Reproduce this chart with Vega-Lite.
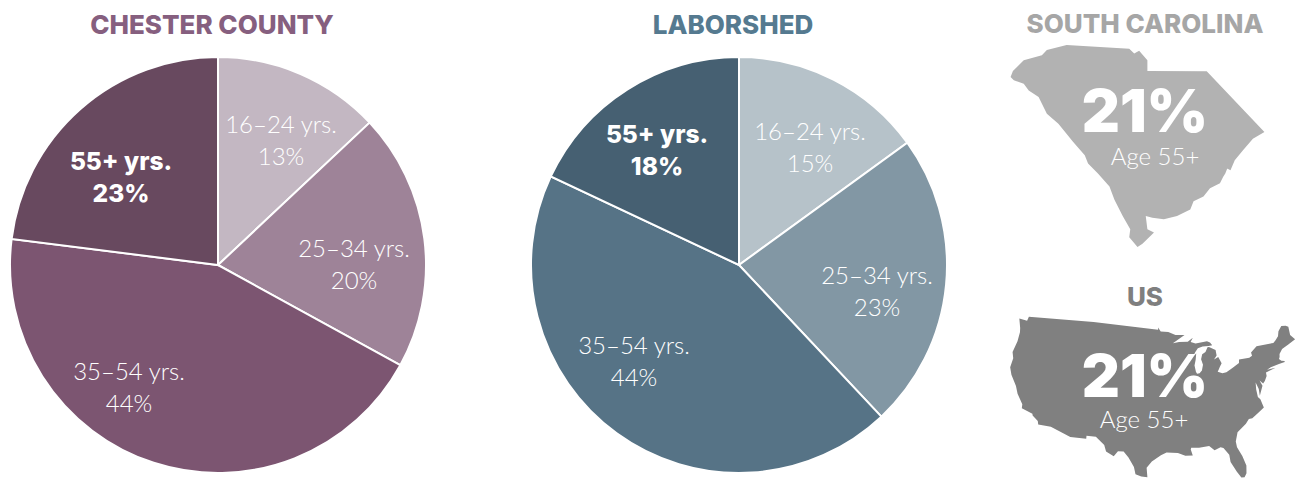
{"$schema":"https://vega.github.io/schema/vega-lite/v6.json","background":"white","padding":{"left":0,"top":12,"right":0,"bottom":0},"bounds":"flush","spacing":85,"resolve":{"scale":{"color":"independent"}},"config":{"view":{"stroke":null},"text":{"font":"Lato"},"title":{"font":"Inter","fontWeight":800,"fontSize":26,"anchor":"middle"}},
"datasets":{"chester":[{"age":"16–24 yrs.","share":13,"rank":1,"label":"16–24 yrs.\n13%"},{"age":"25–34 yrs.","share":20,"rank":2,"label":"25–34 yrs.\n20%"},{"age":"35–54 yrs.","share":44,"rank":3,"label":"35–54 yrs.\n44%"},{"age":"55+ yrs.","share":23,"rank":4,"label":"55+ yrs.\n23%"}],
"laborshed":[{"age":"16–24 yrs.","share":15,"rank":1,"label":"16–24 yrs.\n15%"},{"age":"25–34 yrs.","share":23,"rank":2,"label":"25–34 yrs.\n23%"},{"age":"35–54 yrs.","share":44,"rank":3,"label":"35–54 yrs.\n44%"},{"age":"55+ yrs.","share":18,"rank":4,"label":"55+ yrs.\n18%"}],
"stat":[{"value":"21%","caption":"Age 55+"}]},
"hconcat":[
{"width":436,"height":416,"title":{"text":"CHESTER COUNTY","color":"#865F7F","offset":14,"dx":-6},"data":{"name":"chester"},"layer":[
{"mark":{"type":"arc","outerRadius":208,"stroke":"white","strokeWidth":2},"encoding":{"theta":{"field":"share","type":"quantitative","stack":true},"order":{"field":"rank"},"color":{"field":"age","type":"nominal","legend":null,"scale":{"domain":["16–24 yrs.","25–34 yrs.","35–54 yrs.","55+ yrs."],"range":["#C3B7C2","#9E8398","#7C5571","#68495F"]}}}},
{"transform":[{"filter":"datum.rank==1"}],"mark":{"type":"text","color":"white","fontSize":24,"fontWeight":300,"lineBreak":"\n","lineHeight":32,"dx":63,"dy":-139},"encoding":{"text":{"field":"label"}}},
{"transform":[{"filter":"datum.rank==2"}],"mark":{"type":"text","color":"white","fontSize":24,"fontWeight":300,"lineBreak":"\n","lineHeight":32,"dx":136,"dy":-15},"encoding":{"text":{"field":"label"}}},
{"transform":[{"filter":"datum.rank==3"}],"mark":{"type":"text","color":"white","fontSize":24,"fontWeight":300,"lineBreak":"\n","lineHeight":32,"dx":-89,"dy":108},"encoding":{"text":{"field":"label"}}},
{"transform":[{"filter":"datum.rank==4"}],"mark":{"type":"text","color":"white","font":"Inter","fontSize":24.5,"fontWeight":800,"lineBreak":"\n","lineHeight":32,"dx":-97,"dy":-102},"encoding":{"text":{"field":"label"}}}
]},
{"width":436,"height":416,"title":{"text":"LABORSHED","color":"#557A90","offset":14,"dx":-6},"data":{"name":"laborshed"},"layer":[
{"mark":{"type":"arc","outerRadius":208,"stroke":"white","strokeWidth":2},"encoding":{"theta":{"field":"share","type":"quantitative","stack":true},"order":{"field":"rank"},"color":{"field":"age","type":"nominal","legend":null,"scale":{"domain":["16–24 yrs.","25–34 yrs.","35–54 yrs.","55+ yrs."],"range":["#B6C2C9","#8297A4","#567386","#466072"]}}}},
{"transform":[{"filter":"datum.rank==1"}],"mark":{"type":"text","color":"white","fontSize":24,"fontWeight":300,"lineBreak":"\n","lineHeight":32,"dx":71,"dy":-132},"encoding":{"text":{"field":"label"}}},
{"transform":[{"filter":"datum.rank==2"}],"mark":{"type":"text","color":"white","fontSize":24,"fontWeight":300,"lineBreak":"\n","lineHeight":32,"dx":138,"dy":12},"encoding":{"text":{"field":"label"}}},
{"transform":[{"filter":"datum.rank==3"}],"mark":{"type":"text","color":"white","fontSize":24,"fontWeight":300,"lineBreak":"\n","lineHeight":32,"dx":-105,"dy":82},"encoding":{"text":{"field":"label"}}},
{"transform":[{"filter":"datum.rank==4"}],"mark":{"type":"text","color":"white","font":"Inter","fontSize":24.5,"fontWeight":800,"lineBreak":"\n","lineHeight":32,"dx":-82,"dy":-129},"encoding":{"text":{"field":"label"}}}
]},
{"bounds":"flush","spacing":67,"vconcat":[
{"width":206,"height":193,"title":{"text":"SOUTH CAROLINA","color":"#A6A6A6","offset":7},"projection":{"type":"mercator","center":[-80.95,33.62],"scale":3030,"translate":[95.5,90]},"layer":[
{"data":{"values":[{"type":"Feature","properties":{"name":"South Carolina"},"geometry":{"type":"Polygon","coordinates":[[[-83.35,34.715],[-83.306,34.809],[-83.101,34.975],[-82.758,35.054],[-82.664,35.132],[-82.29,35.21],[-81.106,35.153],[-81.012,35.08],[-80.919,35.121],[-80.763,34.975],[-80.763,34.809],[-79.641,34.803],[-78.55,33.855],[-78.768,33.75],[-78.955,33.568],[-79.111,33.412],[-79.192,33.255],[-79.254,33.281],[-79.192,33.412],[-79.29,33.2],[-79.329,33.151],[-79.391,33.047],[-79.579,32.968],[-79.703,32.838],[-79.89,32.76],[-79.952,32.63],[-80.202,32.525],[-80.451,32.473],[-80.669,32.499],[-80.794,32.525],[-80.763,32.317],[-80.638,32.265],[-80.856,32.082],[-80.95,32.03],[-81.106,32.186],[-81.087,32.317],[-81.23,32.525],[-81.386,32.786],[-81.48,32.994],[-81.698,33.203],[-81.885,33.359],[-81.947,33.49],[-82.166,33.698],[-82.446,33.985],[-82.664,34.141],[-82.82,34.402],[-83.007,34.506],[-83.101,34.61],[-83.288,34.663],[-83.35,34.715]]]}}]},"mark":{"type":"geoshape","fill":"#B2B2B2","stroke":null,"clip":false}},
{"data":{"name":"stat"},"mark":{"type":"text","color":"white","font":"Inter","fontSize":59,"fontWeight":900,"dy":-39.5},"encoding":{"text":{"field":"value"}}},
{"data":{"name":"stat"},"mark":{"type":"text","color":"white","fontSize":24,"fontWeight":300,"dx":10,"dy":4.5},"encoding":{"text":{"field":"caption"}}}
]},
{"width":206,"height":163,"title":{"text":"US","color":"#7F7F7F","offset":6},"projection":{"type":"conicEqualArea","rotate":[96,0],"center":[-0.6,38.7],"parallels":[20,33],"scale":375,"translate":[109,77]},"layer":[
{"data":{"values":[{"type":"Feature","properties":{"name":"United States"},"geometry":{"type":"Polygon","coordinates":[[[-124.7,48.38],[-123.0,48.3],[-122.8,49.0],[-95.15,49.0],[-95.15,49.38],[-94.6,48.72],[-93.0,48.6],[-91.5,48.08],[-89.6,48.0],[-92.1,46.75],[-90.8,46.9],[-89.0,46.9],[-87.9,47.47],[-88.4,46.8],[-87.4,46.5],[-85.0,46.75],[-84.4,46.5],[-84.0,46.0],[-84.75,45.95],[-86.0,45.95],[-87.0,45.7],[-87.6,45.1],[-88.0,44.55],[-87.4,44.9],[-87.6,43.9],[-87.9,43.0],[-87.7,42.0],[-87.5,41.65],[-87.0,41.7],[-86.5,42.1],[-86.2,43.0],[-86.5,43.9],[-86.2,44.7],[-85.5,45.0],[-85.0,45.75],[-84.7,45.78],[-83.4,45.2],[-83.3,44.3],[-83.9,43.7],[-83.0,44.05],[-82.45,43.0],[-82.9,42.4],[-83.15,42.05],[-83.4,41.72],[-82.5,41.4],[-81.7,41.5],[-80.5,42.0],[-79.0,42.7],[-78.9,43.25],[-76.8,43.3],[-76.2,43.55],[-76.3,44.1],[-75.0,44.95],[-71.5,45.0],[-71.0,45.3],[-70.3,45.9],[-70.0,46.7],[-69.2,47.45],[-68.3,47.35],[-67.8,47.07],[-67.8,45.7],[-67.0,44.85],[-68.5,44.3],[-70.0,43.75],[-70.7,43.05],[-70.8,42.6],[-71.0,42.3],[-70.6,41.95],[-70.0,41.8],[-70.0,41.65],[-71.2,41.5],[-72.9,41.25],[-73.7,40.95],[-72.0,41.05],[-74.0,40.58],[-74.0,40.0],[-74.5,39.3],[-74.9,38.95],[-75.5,39.5],[-75.1,38.6],[-75.9,37.15],[-75.9,38.2],[-76.3,39.3],[-76.4,38.2],[-76.3,37.0],[-75.9,36.6],[-75.5,35.25],[-76.6,34.65],[-77.9,33.9],[-78.55,33.85],[-79.2,33.2],[-80.9,32.05],[-81.4,30.7],[-81.3,29.8],[-80.55,28.4],[-80.05,26.9],[-80.2,25.7],[-80.6,25.15],[-81.15,25.15],[-81.8,26.1],[-82.7,27.7],[-82.8,28.8],[-83.7,29.9],[-84.2,30.05],[-85.3,29.7],[-86.2,30.4],[-88.0,30.25],[-89.4,30.3],[-89.5,30.05],[-89.2,29.1],[-90.5,29.15],[-91.8,29.6],[-93.8,29.7],[-94.8,29.3],[-96.4,28.35],[-97.3,27.4],[-97.15,25.95],[-98.2,26.05],[-99.2,26.4],[-99.5,27.5],[-100.5,28.9],[-101.4,29.77],[-102.4,29.78],[-103.1,28.98],[-104.5,29.65],[-104.9,30.6],[-106.5,31.75],[-108.2,31.78],[-108.2,31.33],[-111.07,31.33],[-114.8,32.5],[-117.12,32.53],[-117.3,33.05],[-118.4,33.75],[-118.5,34.03],[-120.6,34.55],[-120.65,35.15],[-121.9,36.6],[-122.5,37.75],[-123.8,39.3],[-124.35,40.4],[-124.15,41.9],[-124.55,42.85],[-124.05,44.7],[-123.95,46.2],[-124.1,46.9],[-124.7,48.38]]]}}]},"mark":{"type":"geoshape","fill":"#808080","stroke":null,"clip":false}},
{"data":{"name":"stat"},"mark":{"type":"text","color":"white","font":"Inter","fontSize":59,"fontWeight":900,"dy":-20},"encoding":{"text":{"field":"value"}}},
{"data":{"name":"stat"},"mark":{"type":"text","color":"white","fontSize":24,"fontWeight":300,"dx":-1,"dy":22.5},"encoding":{"text":{"field":"caption"}}}
]}
]}
]}
